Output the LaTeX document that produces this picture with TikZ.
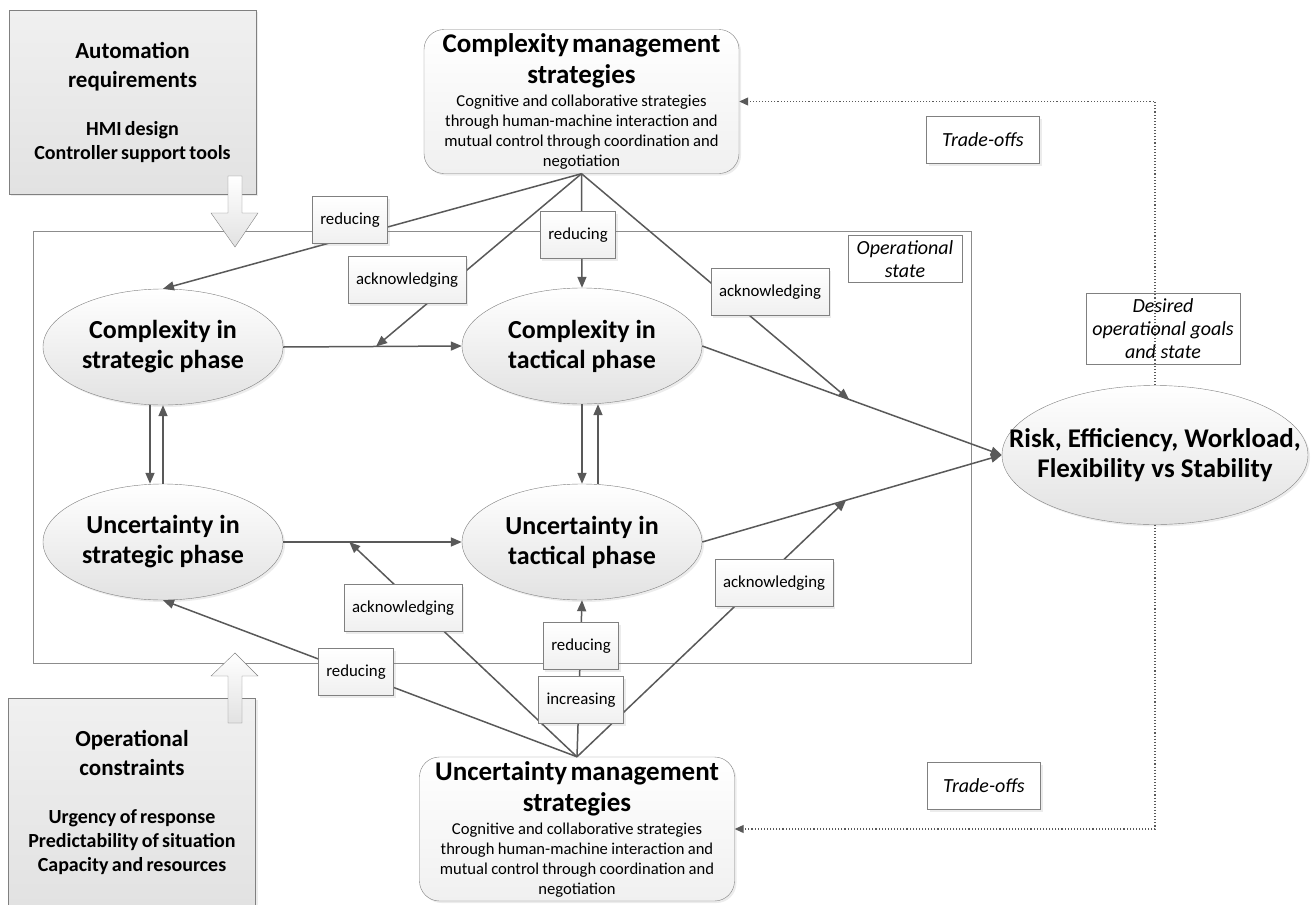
\documentclass[tikz,border=0pt]{standalone}
\usepackage{fontspec}
\setmainfont{Carlito}
\usetikzlibrary{arrows.meta, calc, shapes.geometric, shadows}
\definecolor{LineGray}{RGB}{89,89,89}
\definecolor{EdgeGray}{RGB}{128,128,128}
\definecolor{FrameGray}{RGB}{140,140,140}
\definecolor{FillGray}{RGB}{226,226,226}
\definecolor{LiteGray}{RGB}{240,240,240}
\newcommand{\phasefont}{\fontsize{26}{30}\selectfont\bfseries}
\newcommand{\mgmttitlefont}{\fontsize{27}{31}\selectfont\bfseries}
\newcommand{\mgmtbodyfont}{\fontsize{16.6}{20}\selectfont}
\newcommand{\sidetitlefont}{\fontsize{23}{29}\selectfont\bfseries}
\newcommand{\sidebodyfont}{\fontsize{20}{24}\selectfont\bfseries}
\newcommand{\labelfont}{\fontsize{16.8}{19}\selectfont}
\newcommand{\notefont}{\fontsize{20}{23}\selectfont\itshape}
\tikzset{%
  phase/.style={%
    ellipse,%
    draw=EdgeGray,%
    top color=white,%
    bottom color=FillGray,%
    minimum width=240pt,%
    minimum height=116pt,%
    inner sep=0pt,%
    font=\phasefont,%
    align=center,%
    drop shadow={shadow xshift=2pt, shadow yshift=-2pt, opacity=0.15},%
  },
  strategy_block/.style={%
    rectangle,%
    rounded corners=20pt,%
    draw=EdgeGray,%
    top color=white,%
    bottom color=LiteGray,%
    minimum width=315pt,%
    minimum height=144pt,%
    text width=330pt,%
    inner xsep=-8pt,%
    inner ysep=1pt,%
    align=center,%
    drop shadow={shadow xshift=2pt, shadow yshift=-2pt, opacity=0.15},%
  },
  side_block/.style={%
    rectangle,%
    draw=EdgeGray,%
    top color=LiteGray,%
    bottom color=FillGray,%
    minimum width=247pt,%
    text width=240pt,%
    align=center,%
    drop shadow={shadow xshift=2pt, shadow yshift=-2pt, opacity=0.15},%
  },
  state_frame/.style={%
    rectangle,%
    draw=FrameGray,%
    fill=white,%
    line width=1pt,%
    minimum width=938pt,%
    minimum height=432pt,%
  },
  label_box/.style={%
    rectangle,%
    draw=EdgeGray,%
    top color=white,%
    bottom color=LiteGray,%
    minimum height=47pt,%
    inner xsep=8pt,%
    font=\labelfont,%
    drop shadow={shadow xshift=2pt, shadow yshift=-2pt, opacity=0.15},%
  },
  note_box/.style={%
    rectangle,%
    draw=EdgeGray,%
    fill=white,%
    font=\notefont,%
    align=center,%
    inner xsep=6pt,%
  },
  hollow_arrow/.style={%
    draw=EdgeGray,%
    top color=white,%
    bottom color=FillGray,%
    line join=miter,%
  },
  link/.style={%
    draw=LineGray,%
    line width=1.5pt,%
    line join=round,%
  },
  arrow/.style={-{Triangle[length=11pt, width=9pt]}},
  feedback/.style={%
    draw=LineGray,%
    dotted,%
    line width=1.1pt,%
    -{Triangle[length=9pt, width=8pt]},%
  },
}
\begin{document}
\begin{tikzpicture}[x=1pt, y=-1pt]
  \useasboundingbox (0,0) rectangle (1312,905);

  % operational state frame
  \node [state_frame] (State) at (502,447) {};

  % side boxes
  \node [side_block, minimum height=184pt] (Automation) at (132.5,102) {%
    {\sidetitlefont Automation\\requirements\par}\vspace{24pt}%
    {\sidebodyfont HMI design\\Controller support tools\par}%
  };
  \node [side_block, anchor=north, minimum height=208pt] (Constraints) at (132,698) {%
    {\sidetitlefont Operational\\constraints\par}\vspace{24pt}%
    {\sidebodyfont Urgency of response\\Predictability of situation\\Capacity and resources\par}%
  };
  \draw [hollow_arrow]
    (228,176) -- (242,176) -- (242,213) -- (258,213)
    -- (235,247) -- (211,213) -- (228,213) -- cycle;
  \draw [hollow_arrow]
    (228,723) -- (242,723) -- (242,676) -- (258,676)
    -- (235,653) -- (211,676) -- (228,676) -- cycle;

  % strategies
  \node [strategy_block] (CM) at (581.5,101.5) {%
    {\mgmttitlefont Complexity management\\strategies\par}\vspace{3pt}%
    {\mgmtbodyfont Cognitive and collaborative strategies\\through human-machine interaction and\\mutual control through coordination and\\negotiation\par}%
  };
  \node [strategy_block] (UM) at (577,829) {%
    {\mgmttitlefont Uncertainty management\\strategies\par}\vspace{3pt}%
    {\mgmtbodyfont Cognitive and collaborative strategies\\through human-machine interaction and\\mutual control through coordination and\\negotiation\par}%
  };

  % phases
  \node [phase] (CS) at (163,347) {Complexity in\\strategic phase};
  \node [phase] (US) at (163,542) {Uncertainty in\\strategic phase};
  \node [phase] (CT) at (582,346) {Complexity in\\tactical phase};
  \node [phase] (UT) at (582,542) {Uncertainty in\\tactical phase};
  \node [phase, minimum width=306pt, minimum height=139pt, inner xsep=-45pt,
    font=\fontsize{27}{30}\selectfont\bfseries] (Risk) at (1155,455) {%
    Risk, Efficiency, Workload,\\Flexibility vs Stability%
  };

  % points on the phase links
  \coordinate (ack_cs) at ($(CS.east)!0.52!(CT.west)$);
  \coordinate (ack_us) at ($(US.east)!0.37!(UT.west)$);
  \coordinate (ack_ct) at ($(CT.east)!0.49!(Risk.west)$);
  \coordinate (ack_ut) at ($(UT.east)!0.48!(Risk.west)$);

  \draw [arrow, link] (CS.east) -- (CT.west);
  \draw [arrow, link] (US.east) -- (UT.west);
  \draw [arrow, link] ([xshift=-13pt]CS.south) -- ([xshift=-13pt]US.north);
  \draw [arrow, link] (US.north) -- (CS.south);
  \draw [arrow, link] (CT.south) -- (UT.north);
  \draw [arrow, link] ([xshift=16pt]UT.north) -- ([xshift=16pt]CT.south);
  \draw [arrow, link] (CT.east) -- (Risk.west);
  \draw [arrow, link] (UT.east) -- (Risk.west);

  % complexity strategies
  \draw [arrow, link]
    (CM.south)
    --
    (CS.north);
  \draw [arrow, link]
    (CM.south)
    --
    (ack_cs);
  \draw [arrow, link]
    (CM.south)
    --
    (CT.north);
  \draw [arrow, link]
    (CM.south)
    --
    (ack_ct);

  % uncertainty strategies
  \draw [arrow, link]
    (UM.north)
    --
    (US.south);
  \draw [arrow, link]
    (UM.north)
    --
    (ack_us);
  \draw [arrow, link]
    (UM.north)
    --
    (UT.south);
  \draw [arrow, link]
    (UM.north)
    --
    (ack_ut);

  % labels
  \node [label_box] (RedCS) at (350,220) {reducing};
  \node [label_box] (AckCS) at (407,280) {acknowledging};
  \node [label_box] (RedCT) at (578,235) {reducing};
  \node [label_box] (AckCT) at (770,292) {acknowledging};
  \node [label_box] (AckUS) at (403,608) {acknowledging};
  \node [label_box] (RedUS) at (356,672) {reducing};
  \node [label_box] (RedUT) at (581,646) {reducing};
  \node [label_box] (IncUT) at (581,700) {increasing};
  \node [label_box] (AckUT) at (774,583) {acknowledging};

  % goals and trade-offs
  \node [note_box, minimum width=114pt, minimum height=47pt] (StateNote) at (905,259) {%
    Operational\\state%
  };
  \node [note_box, minimum width=151pt, minimum height=71pt] (Goals) at (1163,329) {%
    Desired\\operational goals\\and state%
  };
  \node [note_box, minimum width=113pt, minimum height=47pt,
    drop shadow={shadow xshift=2pt, shadow yshift=-2pt, opacity=0.15}] (TradeTop) at (983,140) {Trade-offs};
  \node [note_box, minimum width=113pt, minimum height=47pt,
    drop shadow={shadow xshift=2pt, shadow yshift=-2pt, opacity=0.15}] (TradeBottom) at (984,786) {Trade-offs};

  \draw [feedback] (Risk.north) |- (CM.east);
  \draw [feedback] (Risk.south) |- (UM.east);
\end{tikzpicture}
\end{document}
